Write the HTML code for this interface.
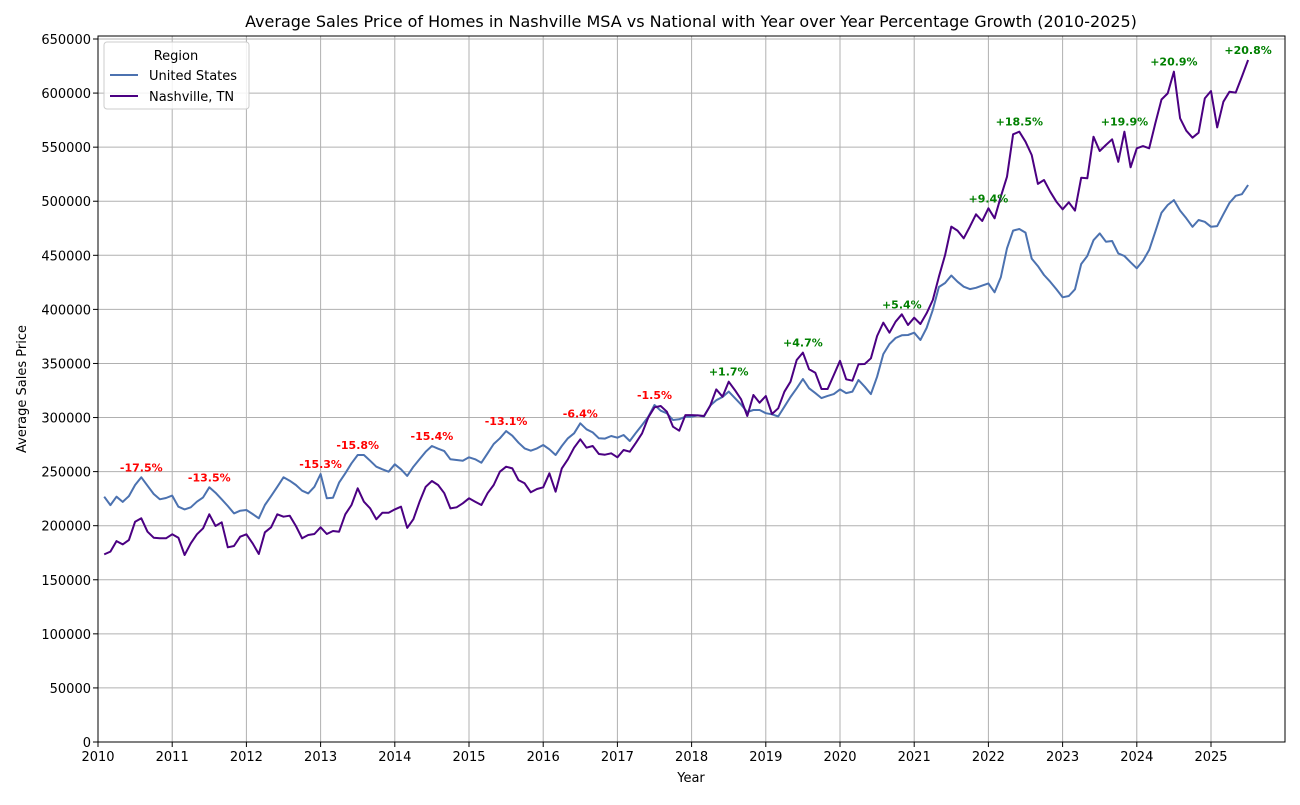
<!DOCTYPE html>
<html><head><meta charset="utf-8"><style>
body{margin:0;background:#fff;}
svg text{font-family:"DejaVu Sans","Liberation Sans",sans-serif;}
</style></head><body>
<svg id="chart" width="1300" height="800" xmlns="http://www.w3.org/2000/svg"></svg>
<script>
const usValues=[226.8,219,226.8,222,227.4,237.6,244.7,237,229.3,224.4,225.6,227.8,
217.6,215.1,217,222.2,226.2,235.5,230.5,224.4,218.2,211.4,213.9,214.5,
210.8,206.8,219.1,227.4,236,244.7,241.6,237.6,232.4,229.9,236,247.8,
225.3,225.9,239.8,248.4,257.7,265.4,265.4,260.1,254.5,252.1,249.9,256.8,
252.1,246,254.5,261.4,268.4,273.7,271.2,269,261.4,260.7,260.1,263.2,
261.4,258.2,266.9,275.5,280.8,287.5,283.2,276.7,271.5,269.3,271.5,274.6,
270.6,265.4,273.7,280.8,285.4,294.7,289.1,286.3,280.8,280.5,282.9,281.4,
283.9,278.3,286,293.1,300.8,311.6,306.3,303.9,297.7,298.4,300.8,300.8,
302,301,311,316,319,324,318,312,305,307,307,304,
303,301,310,319,327,335.6,327,322.6,318,320,321.7,326,
322.6,324,334.7,328.5,321.7,337.8,358.7,368,373.5,376,376.3,378.4,
371.7,382.8,399.5,420.7,424.4,431.3,425.6,421,418.8,420,422,424,
415.8,429.7,456.5,472.8,474.3,471,447,440,431.8,425.6,418.6,411.2,
412.4,418.6,442,449.4,464,470.3,462.6,463.2,451.8,449.4,443.5,438,
445,455,471.8,489.4,496.5,501,491.3,484.2,476.4,482.6,481,476.4,
477,488,498.5,505,506.5,515];
const nashValues=[173.5,176,185.8,182.7,186.8,203.7,206.8,194.4,188.9,188.3,188.3,192,
188.9,172.9,183.7,192,197.6,210.5,199.7,203.1,180,181.2,189.8,192,
183.7,173.8,193.9,198.5,210.5,208.3,209.2,199.7,188.3,191.4,192.3,198.5,
192.3,195.1,194.4,210.5,219.1,234.6,222.2,216.1,205.9,212,212,215.1,
217.6,198,206,222,236,241.3,237.6,230,216,217,220.7,225.3,
222.2,219.1,230,237.6,249.9,254.5,253,242.2,239.2,230.9,233.9,235.5,
248.4,231.4,253,261.4,272.1,279.9,272.1,273.7,266.3,265.6,266.9,263.2,
270,268.4,276.7,285.4,300.1,309.5,310.7,305.4,291.5,287.8,302.3,302.3,
302,301.4,310.7,326,319.3,333.1,325.4,316.9,301.4,320.8,313.7,319.9,
303.3,308.5,323.9,333.1,353.2,360,344.6,341.5,326.4,326.4,339.3,352.5,
335.4,334.1,349.2,349.5,354.8,375.4,387.7,378.4,388.6,395.5,385.6,392.3,
386.5,396.4,408.7,430.2,450.3,476.5,472.8,465.7,476.5,487.9,481.7,493.5,
484.2,504.2,522.7,561.9,564.3,555,542.7,516,519.6,508.8,499.6,492.5,
499,491.3,521.8,521.2,559.7,546.4,552,557.3,536.5,564.3,531.4,548.9,
551,548.9,572,594.1,599.7,619.8,576.7,565.2,558.7,563.4,595.1,601.9,
568.3,592,601.3,600.4,615.2,630.6];
const annYears=[2010,2011,2012,2013,2014,2015,2016,2017,2018,2019,2020,2021,2022,2023,2024,2025];
const annPcts=[-17.5,-13.5,-15.3,-15.8,-15.4,-13.1,-6.4,-1.5,1.7,4.7,5.4,9.4,18.5,19.9,20.9,20.8];
const yTicks=[0,50000,100000,150000,200000,250000,300000,350000,400000,450000,500000,550000,600000,650000];
const xTicks=[2010,2011,2012,2013,2014,2015,2016,2017,2018,2019,2020,2021,2022,2023,2024,2025];

const NS='http://www.w3.org/2000/svg';
const svg=document.getElementById('chart');
const L=98,R=1285,T=36,B=742;
const xS=t=>L+(t-2010)*(1211-98)/15;
const yS=v=>B-v*(B-39)/650000;
const tOf=i=>2010+(i+1)/12;
function mk(tag,attrs,parent){const e=document.createElementNS(NS,tag);for(const k in attrs)e.setAttribute(k,attrs[k]);(parent||svg).appendChild(e);return e;}

const grid=mk('g',{});


xTicks.forEach(t=>{
  const l=mk('line',{x1:xS(t),x2:xS(t),y1:T,y2:B,stroke:'#b0b0b0','stroke-width':1},grid);
  
  
  const tk=mk('line',{x1:xS(t),x2:xS(t),y1:B,y2:B+5,stroke:'#000'});
  
  
  const tx=mk('text',{x:xS(t),y:B+19,'text-anchor':'middle','font-size':13});
  tx.textContent=t;
  
  
});
yTicks.forEach(v=>{
  const l=mk('line',{x1:L,x2:R,y1:yS(v),y2:yS(v),stroke:'#b0b0b0','stroke-width':1},grid);
  
  
  const tk=mk('line',{x1:L-5,x2:L,y1:yS(v),y2:yS(v),stroke:'#000'});
  
  
  const tx=mk('text',{x:L-7,y:yS(v)+5,'text-anchor':'end','font-size':13});
  tx.textContent=v;
  
  
});

function series(vals,color,name){
  const d=vals.map((v,i)=>(i?'L':'M')+xS(tOf(i)).toFixed(1)+','+yS(v*1000).toFixed(1)).join(' ');
  const p=mk('path',{d:d,fill:'none',stroke:color,'stroke-width':2,'stroke-linejoin':'round'});
  
  
}
series(usValues,'#4c72b0','us-line');
series(nashValues,'#4b0082','nashville-line');

annYears.forEach((yr,k)=>{
  let best=-1,bi=0;
  for(let i=0;i<12;i++){const idx=(yr-2010)*12+i;if(idx>=usValues.length)break;
    const m=Math.max(usValues[idx],nashValues[idx]);if(m>best){best=m;bi=idx;}}
  const p=annPcts[k];
  const tx=mk('text',{x:xS(tOf(bi)),y:yS(best*1000)-6,'text-anchor':'middle','font-size':11,'font-weight':'bold',fill:p<0?'#ff0000':'#008000'});
  tx.textContent=(p>0?'+':'')+p.toFixed(1)+'%';
  
  
});

const frame=mk('rect',{x:L,y:T,width:R-L,height:B-T,fill:'none',stroke:'#000','stroke-width':1});



const title=mk('text',{x:691,y:27,'text-anchor':'middle','font-size':16});
title.textContent='Average Sales Price of Homes in Nashville MSA vs National with Year over Year Percentage Growth (2010-2025)';


const xt=mk('text',{x:691,y:782,'text-anchor':'middle','font-size':13});
xt.textContent='Year';


const yt=mk('text',{x:26,y:389,'text-anchor':'middle','font-size':13,transform:'rotate(-90 26 389)'});
yt.textContent='Average Sales Price';



const lg=mk('g',{});


mk('rect',{x:104,y:42,width:145,height:67,rx:3,fill:'#fff','fill-opacity':0.85,stroke:'#ccc'},lg);
const lt=mk('text',{x:176,y:60,'text-anchor':'middle','font-size':13},lg);
lt.textContent='Region';


[['United States','#4c72b0',75],['Nashville, TN','#4b0082',96]].forEach(e=>{
  const g=mk('g',{},lg);
  
  
  mk('line',{x1:110,x2:138,y1:e[2],y2:e[2],stroke:e[1],'stroke-width':2},g);
  const t=mk('text',{x:149,y:e[2]+5,'font-size':13},g);
  t.textContent=e[0];
});
</script>
</body></html>
